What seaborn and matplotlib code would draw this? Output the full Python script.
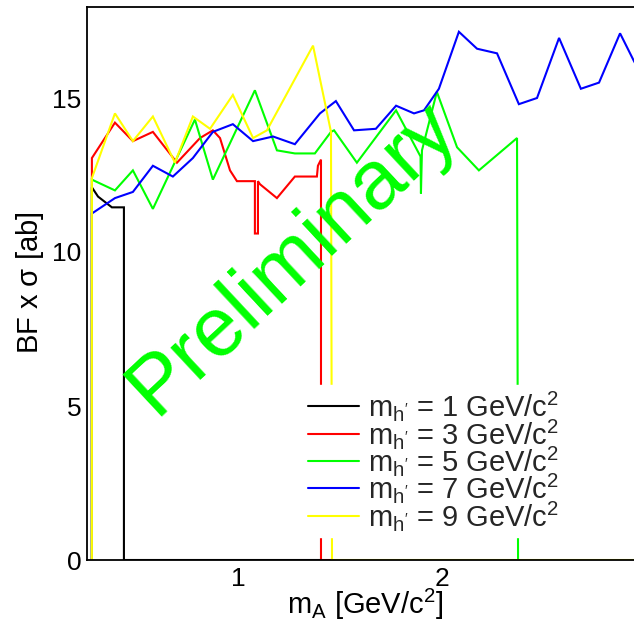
import numpy as np
import pandas as pd
import matplotlib
matplotlib.use("Agg")
import matplotlib.pyplot as plt
from matplotlib.lines import Line2D
from matplotlib.ticker import MultipleLocator, FixedLocator
import seaborn as sns

# ---------------- data ----------------
mA_1 = [0.284, 0.284, 0.314, 0.382, 0.441, 0.441, 1.407]
bf_1 = [0.0, 12.1, 11.8, 11.45, 11.45, 0.0, 0.0]

mA_3 = [0.284, 0.284, 0.397, 0.485, 0.583, 0.701, 0.814, 0.877, 0.912, 0.961,
        0.995, 1.083, 1.083, 1.098, 1.098, 1.108, 1.191, 1.279, 1.387, 1.392,
        1.407, 1.407, 1.456]
bf_3 = [0.0, 13.05, 14.2, 13.6, 13.9, 12.9, 13.7, 13.95, 13.7, 12.65,
        12.3, 12.3, 10.6, 10.6, 12.3, 12.2, 11.75, 12.45, 12.45, 12.8,
        13.0, 0.0, 0.0]

mA_5 = [0.284, 0.284, 0.397, 0.485, 0.583, 0.789, 0.877, 1.083, 1.191, 1.279,
        1.377, 1.456, 1.471, 1.583, 1.775, 1.895, 1.897, 1.902, 1.975, 2.074,
        2.181, 2.368, 2.373]
bf_5 = [0.0, 12.35, 12.0, 12.65, 11.4, 14.3, 12.35, 15.25, 13.3, 13.2,
        13.2, 13.9, 13.95, 12.9, 14.6, 13.1, 11.9, 13.3, 15.2, 13.4,
        12.65, 13.7, 0.0]

mA_7 = [0.284, 0.284, 0.397, 0.485, 0.583, 0.681, 0.779, 0.877, 0.975, 1.074,
        1.172, 1.279, 1.402, 1.480, 1.569, 1.676, 1.775, 1.863, 1.912, 1.985,
        2.083, 2.172, 2.270, 2.377, 2.466, 2.574, 2.681, 2.770, 2.873, 2.941,
        3.0]
bf_7 = [0.0, 11.25, 11.75, 11.95, 12.8, 12.45, 13.05, 13.9, 14.15, 13.6,
        13.75, 13.5, 14.5, 14.9, 13.95, 14.0, 14.75, 14.5, 14.6, 15.3,
        17.15, 16.6, 16.45, 14.8, 15.0, 16.95, 15.3, 15.5, 17.1, 16.2,
        15.5]

mA_9 = [0.284, 0.284, 0.397, 0.485, 0.583, 0.691, 0.779, 0.863, 0.975, 1.074,
        1.142, 1.368, 1.456, 1.461, 3.0]
bf_9 = [0.0, 12.4, 14.5, 13.6, 14.4, 12.9, 14.4, 14.0, 15.1, 13.7,
        13.95, 16.7, 13.9, 0.0, 0.0]

masses = ["1", "3", "5", "7", "9"]
series_x = [mA_1, mA_3, mA_5, mA_7, mA_9]
series_y = [bf_1, bf_3, bf_5, bf_7, bf_9]
colors = ["#000000", "#ff0000", "#00ff00", "#0000ff", "#ffff00"]
labels = [r"$\mathregular{m_{h^{\prime}}}$ = %s GeV/c$^{\mathregular{2}}$" % m for m in masses]

x_ticks = [1, 2]
y_ticks = [0, 5, 10, 15]

rows = []
for m, xs, ys in zip(masses, series_x, series_y):
    for i, (xv, yv) in enumerate(zip(xs, ys)):
        rows.append({"mass": m, "order": i, "mA": xv, "bf": yv})
df = pd.DataFrame(rows)

# ---------------- style ----------------
sns.set_theme(style="white")
plt.rcParams["font.family"] = ["Liberation Sans", "DejaVu Sans"]
plt.rcParams["mathtext.fontset"] = "custom"
plt.rcParams["mathtext.rm"] = "Liberation Sans"
plt.rcParams["mathtext.it"] = "Liberation Sans:italic"
plt.rcParams["mathtext.bf"] = "Liberation Sans:bold"

W, H = 634, 624
fig = plt.figure(figsize=(W / 100, H / 100), dpi=100)
fig.patch.set_facecolor("white")

x0, x1 = 0.26, 3.0
px_per_x = 204.0
ax_left = 87 / W
ax_w = (x1 - x0) * px_per_x / W
ax_bottom = (H - 560) / H
ax_h = (560 - 7) / H
ax = fig.add_axes([ax_left, ax_bottom, ax_w, ax_h])
ax.set_facecolor("white")

palette = dict(zip(masses, colors))
sns.lineplot(data=df, x="mA", y="bf", hue="mass", palette=palette,
             estimator=None, sort=False, units="mass", legend=False,
             linewidth=1.5, ax=ax)
for ln in ax.get_lines():
    ln.set_solid_joinstyle("miter")

ax.set_xlim(x0, x1)
ax.set_ylim(0, (560 - 7) / 30.8)
ax.xaxis.set_major_locator(FixedLocator(x_ticks))
ax.xaxis.set_minor_locator(MultipleLocator(0.2))
ax.yaxis.set_major_locator(FixedLocator(y_ticks))
ax.yaxis.set_minor_locator(MultipleLocator(1))
ax.set_xticklabels([str(t) for t in x_ticks])
ax.set_yticklabels([str(t) for t in y_ticks])
ax.tick_params(axis="both", which="both", direction="in", colors="black",
               labelsize=19, width=1.1)
ax.tick_params(axis="x", which="major", length=12.5, pad=5)
ax.tick_params(axis="x", which="minor", length=6)
ax.tick_params(axis="y", which="major", length=13, pad=4)
ax.tick_params(axis="y", which="minor", length=7.5)
for side in ["left", "bottom", "top", "right"]:
    ax.spines[side].set_visible(True)
    ax.spines[side].set_color("black")
    ax.spines[side].set_linewidth(1.3)
ax.set_xlabel("")
ax.set_ylabel("")

# axis titles
fig.text(30 / W, 1 - 283 / H, r"BF x $\mathregular{\sigma}$ [ab]", rotation=90,
         ha="center", va="center", fontsize=21, color="black")
fig.text(365 / W, 1 - 604 / H, r"$\mathregular{m_{A}}$ [GeV/c$^{\mathregular{2}}$]",
         ha="center", va="center", fontsize=21, color="black")

# watermark
ax.text(292 / W, 1 - 258 / H, "Preliminary", transform=fig.transFigure,
        rotation=43, ha="center", va="center", fontsize=60, color="#00ff00",
        rotation_mode="anchor", zorder=10)

# legend
handles = [Line2D([0], [0], color=c, lw=1.5) for c in colors]
leg = ax.legend(handles, labels, loc="upper left",
                bbox_to_anchor=(304 / W, 1 - 385 / H),
                bbox_transform=fig.transFigure, frameon=True, fontsize=21,
                handlelength=1.75, handletextpad=0.3, labelspacing=-0.23,
                borderpad=0.15, borderaxespad=0.0, fancybox=False)
leg.get_frame().set_facecolor("white")
leg.get_frame().set_edgecolor("white")
leg.get_frame().set_alpha(1.0)
leg.set_zorder(20)

fig.savefig("out.png", dpi=100, facecolor="white")
